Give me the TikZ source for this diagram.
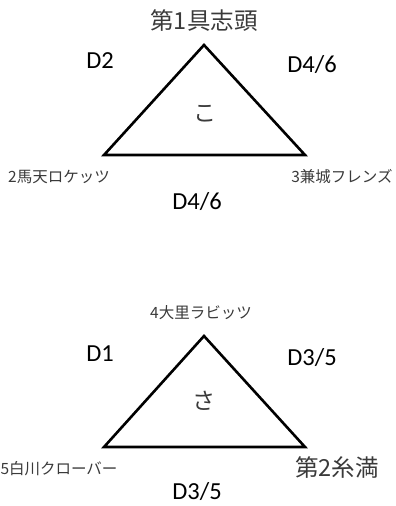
\documentclass[tikz,border=0pt]{standalone}
\usepackage{fontspec}
\setmainfont{Carlito}
\newfontfamily\jp{Noto Sans CJK JP}
\definecolor{jpgray}{HTML}{3A3A3A}
\begin{document}
\begin{tikzpicture}[x=1pt,y=-1pt,
  tri/.style={line width=2.6pt,line join=miter},
  dlab/.style={font=\fontsize{24.5}{28}\selectfont,inner sep=0pt},
  biglab/.style={font=\jp\fontsize{23.5}{27}\selectfont,text=jpgray,inner sep=0pt},
  smalllab/.style={font=\jp\fontsize{15.5}{18}\selectfont,text=jpgray,inner sep=0pt},
  kana/.style={font=\jp\fontsize{23}{26}\selectfont,text=jpgray,inner sep=0pt}]
\useasboundingbox (0,0) rectangle (396,506);
% top triangle
\coordinate (A1) at (204,45);
\coordinate (B1) at (104,155);
\coordinate (C1) at (305,155);
\draw[tri] (A1) -- (B1) -- (C1) -- cycle;
\node[biglab] (t1) at (204,21) {第1具志頭};
\node[dlab] (d2) at (100,61) {D2};
\node[dlab] (d46a) at (312,65) {D4/6};
\node[kana] (ko) at (205,114) {こ};
\node[smalllab] (t2) at (59,177) {2馬天ロケッツ};
\node[smalllab] (t3) at (342,177) {3兼城フレンズ};
\node[dlab] (d46b) at (197,202) {D4/6};
% bottom triangle
\coordinate (A2) at (204,336);
\coordinate (B2) at (104,447);
\coordinate (C2) at (305,447);
\draw[tri] (A2) -- (B2) -- (C2) -- cycle;
\node[smalllab] (t4) at (201,313) {4大里ラビッツ};
\node[dlab] (d1) at (100,354) {D1};
\node[dlab] (d35a) at (312,358) {D3/5};
\node[kana] (sa) at (204,401) {さ};
\node[smalllab] (t5) at (59,469) {5白川クローバー};
\node[biglab] (t6) at (337,467) {第2糸満};
\node[dlab] (d35b) at (197,492) {D3/5};
\end{tikzpicture}
\end{document}
